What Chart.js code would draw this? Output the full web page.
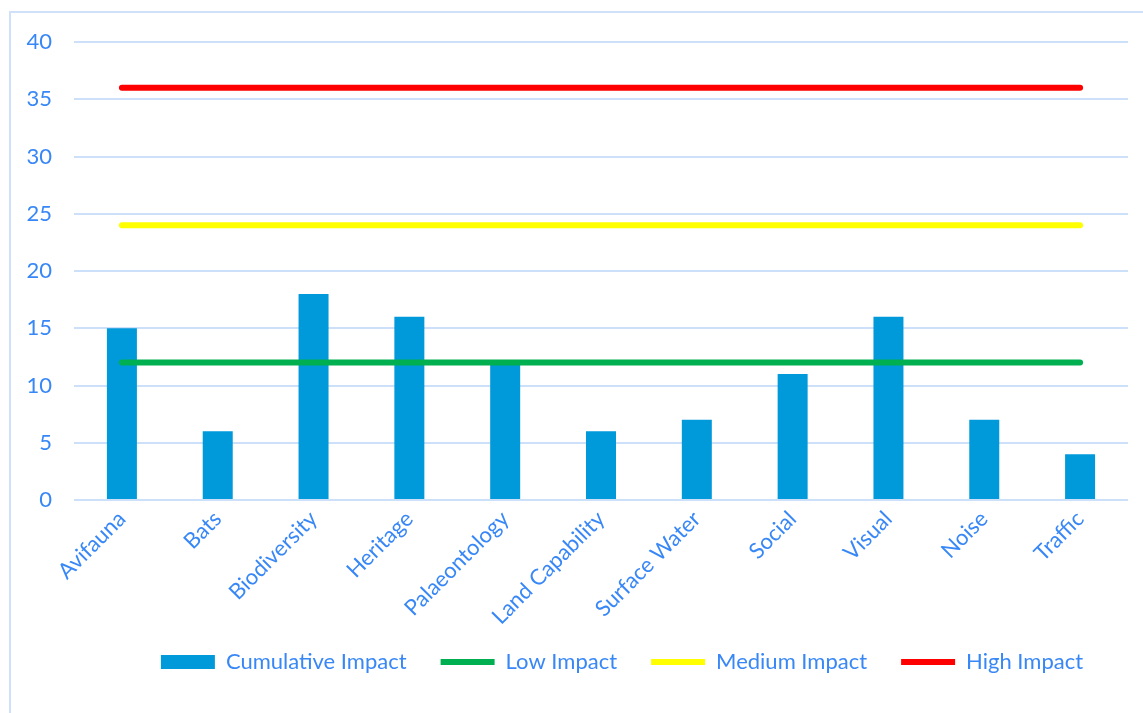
<!DOCTYPE html>
<html>
<head>
<meta charset="utf-8">
<script src="https://cdn.jsdelivr.net/npm/chart.js@4/dist/chart.umd.min.js"></script>
<style>
  html, body { margin: 0; padding: 0; background: #ffffff; overflow: hidden; }
  #wrap { width: 1143px; height: 713px; position: relative; overflow: hidden; }
</style>
</head>
<body>
<div id="wrap"><canvas id="c" width="1143" height="713"></canvas></div>
<script>
const categories = ["Avifauna", "Bats", "Biodiversity", "Heritage", "Palaeontology", "Land Capability", "Surface Water", "Social", "Visual", "Noise", "Traffic"];
const cumulativeImpact = [15, 6, 18, 16, 12, 6, 7, 11, 16, 7, 4];
const lowImpact = [12, 12, 12, 12, 12, 12, 12, 12, 12, 12, 12];
const mediumImpact = [24, 24, 24, 24, 24, 24, 24, 24, 24, 24, 24];
const highImpact = [36, 36, 36, 36, 36, 36, 36, 36, 36, 36, 36];
const yTicks = [0, 5, 10, 15, 20, 25, 30, 35, 40];

const textColor = '#3887F7';
const gridColor = '#CCE0FA';
const fontFamily = 'Lato, "Open Sans", sans-serif';
const fontSize = 22;

const borderPlugin = {
  id: 'frame',
  afterLayout(chart) {
    const lg = chart.legend;
    if (lg) {
      lg.left += 58; lg.right += 58;
      lg.top -= 13; lg.bottom -= 13;
    }
  },
  beforeDraw(chart) {
    const ctx = chart.ctx;
    ctx.save();
    ctx.fillStyle = '#ffffff';
    ctx.fillRect(0, 0, chart.width, chart.height);
    ctx.strokeStyle = '#CFE0F8';
    ctx.lineWidth = 2;
    ctx.strokeRect(10, 12, chart.width + 20, chart.height + 20);
    ctx.restore();
  }
};

const lineDs = (label, data, color) => ({
  type: 'line',
  label: label,
  data: data,
  borderColor: color,
  backgroundColor: color,
  borderWidth: 6,
  borderCapStyle: 'round',
  pointRadius: 0,
  pointHoverRadius: 0,
  pointStyle: 'line',
  fill: false,
  order: 1
});

new Chart(document.getElementById('c'), {
  type: 'bar',
  data: {
    labels: categories,
    datasets: [
      {
        type: 'bar',
        label: 'Cumulative Impact',
        data: cumulativeImpact,
        backgroundColor: '#0099DA',
        borderWidth: 0,
        categoryPercentage: 1.0,
        barPercentage: 0.313,
        pointStyle: 'rect',
        order: 10
      },
      lineDs('Low Impact', lowImpact, '#00B050'),
      lineDs('Medium Impact', mediumImpact, '#FFFF00'),
      lineDs('High Impact', highImpact, '#FF0000')
    ]
  },
  plugins: [borderPlugin],
  options: {
    responsive: false,
    animation: false,
    devicePixelRatio: 1,
    layout: { padding: { left: 0, right: 15, top: 42, bottom: 17 } },
    plugins: {
      tooltip: { enabled: false },
      legend: {
        position: 'bottom',
        labels: {
          usePointStyle: true,
          pointStyleWidth: 54,
          boxHeight: 14,
          padding: 34,
          color: textColor,
          font: { family: fontFamily, size: fontSize },
          sort: (a, b) => a.datasetIndex - b.datasetIndex
        }
      }
    },
    scales: {
      x: {
        grid: { display: false, drawTicks: false },
        border: { display: false },
        ticks: {
          color: textColor,
          font: { family: fontFamily, size: fontSize },
          minRotation: 45,
          maxRotation: 45,
          padding: 6,
          autoSkip: false
        },
        afterFit(s) { s.height = 130; }
      },
      y: {
        min: 0,
        max: 40,
        afterBuildTicks(s) { s.ticks = yTicks.map(v => ({ value: v })); },
        grid: { color: gridColor, lineWidth: 2, drawTicks: false },
        border: { display: false },
        ticks: {
          color: textColor,
          font: { family: fontFamily, size: fontSize },
          padding: 22
        },
        afterFit(s) { s.width = 74; }
      }
    }
  }
});
</script>
</body>
</html>
